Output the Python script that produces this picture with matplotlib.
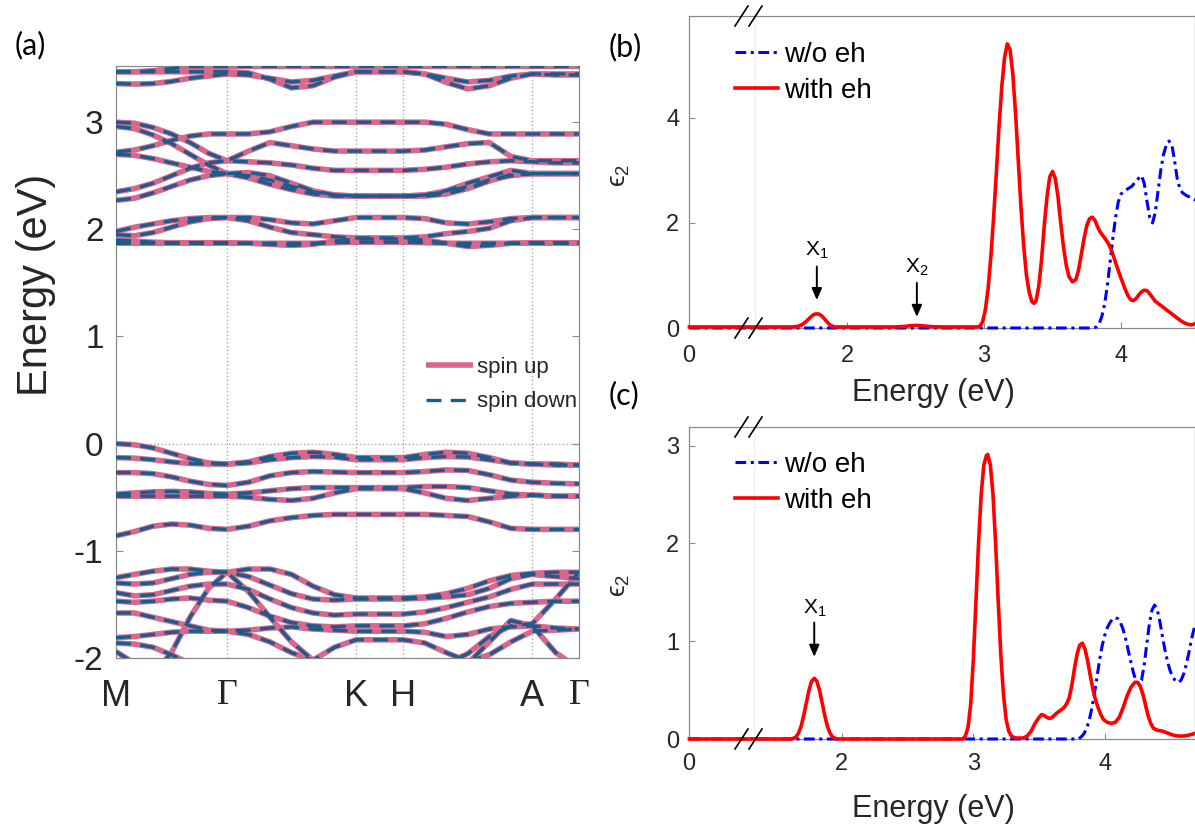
import numpy as np
import matplotlib
matplotlib.use("Agg")
import matplotlib.pyplot as plt
from matplotlib.lines import Line2D

plt.rcParams['font.family'] = ['Liberation Sans', 'DejaVu Sans']
plt.rcParams['mathtext.fontset'] = 'custom'
plt.rcParams['mathtext.rm'] = 'Liberation Sans'
plt.rcParams['mathtext.it'] = 'Liberation Sans:italic'

# ---------------- panel (a): band structure ----------------
k_nodes = [0.0, 1.11, 2.40, 2.873, 4.163, 4.63]
k_labels = ['M', 'Γ', 'K', 'H', 'A', 'Γ']
seg_div = [6, 6, 2, 6, 2]

# conduction bands (eV), sampled along M-Γ-K-H-A-Γ
cb_u1 = [3.47, 3.47, 3.48, 3.50, 3.52, 3.52, 3.52, 3.52, 3.52, 3.52, 3.52, 3.52, 3.52, 3.52, 3.52, 3.52, 3.52, 3.52, 3.52, 3.52, 3.52, 3.52, 3.52]
cb_u2 = [3.36, 3.355, 3.36, 3.38, 3.41, 3.43, 3.45, 3.44, 3.41, 3.375, 3.39, 3.43, 3.47, 3.47, 3.47, 3.45, 3.41, 3.375, 3.39, 3.43, 3.45, 3.45, 3.45]
cb_u3 = [3.47, 3.47, 3.47, 3.47, 3.47, 3.47, 3.47, 3.46, 3.40, 3.32, 3.34, 3.42, 3.47, 3.47, 3.47, 3.45, 3.37, 3.31, 3.34, 3.41, 3.45, 3.44, 3.44]
cb_m1 = [3.00, 2.99, 2.95, 2.89, 2.81, 2.71, 2.64, 2.73, 2.81, 2.78, 2.75, 2.73, 2.73, 2.73, 2.73, 2.74, 2.77, 2.80, 2.81, 2.68, 2.64, 2.64, 2.64]
cb_m2 = [2.96, 2.94, 2.88, 2.80, 2.70, 2.60, 2.52, 2.53, 2.50, 2.43, 2.36, 2.32, 2.31, 2.31, 2.31, 2.32, 2.36, 2.43, 2.49, 2.55, 2.52, 2.52, 2.52]
cb_m3 = [2.72, 2.74, 2.78, 2.83, 2.87, 2.89, 2.89, 2.89, 2.91, 2.96, 3.00, 3.00, 3.00, 3.00, 3.00, 3.00, 2.98, 2.93, 2.89, 2.89, 2.89, 2.89, 2.89]
cb_m4 = [2.70, 2.69, 2.66, 2.62, 2.58, 2.54, 2.52, 2.50, 2.46, 2.40, 2.35, 2.32, 2.31, 2.31, 2.31, 2.32, 2.35, 2.40, 2.46, 2.50, 2.52, 2.52, 2.52]
cb_m5 = [2.35, 2.38, 2.43, 2.50, 2.57, 2.62, 2.64, 2.63, 2.62, 2.60, 2.57, 2.55, 2.55, 2.55, 2.55, 2.56, 2.58, 2.61, 2.63, 2.64, 2.63, 2.62, 2.62]
cb_m6 = [2.27, 2.29, 2.34, 2.40, 2.46, 2.50, 2.52, 2.48, 2.42, 2.37, 2.33, 2.31, 2.31, 2.31, 2.31, 2.31, 2.33, 2.38, 2.45, 2.51, 2.52, 2.52, 2.52]
cb_l1 = [1.98, 2.02, 2.05, 2.08, 2.10, 2.11, 2.11, 2.11, 2.09, 2.06, 2.05, 2.08, 2.11, 2.11, 2.11, 2.10, 2.06, 2.05, 2.07, 2.10, 2.11, 2.11, 2.11]
cb_l2 = [1.95, 1.94, 1.97, 2.02, 2.07, 2.10, 2.11, 2.08, 2.02, 1.97, 1.95, 1.93, 1.92, 1.92, 1.92, 1.93, 1.96, 1.98, 2.01, 2.08, 2.11, 2.11, 2.11]
cb_l3 = [1.90, 1.89, 1.88, 1.875, 1.875, 1.875, 1.875, 1.87, 1.86, 1.85, 1.86, 1.89, 1.91, 1.91, 1.91, 1.90, 1.87, 1.84, 1.85, 1.87, 1.875, 1.875, 1.875]
cb_l4 = [1.87, 1.87, 1.87, 1.87, 1.87, 1.87, 1.87, 1.87, 1.87, 1.87, 1.87, 1.875, 1.88, 1.88, 1.88, 1.875, 1.87, 1.87, 1.87, 1.87, 1.87, 1.87, 1.87]
# valence bands (eV)
vb_1 = [0.0, -0.01, -0.04, -0.09, -0.14, -0.18, -0.19, -0.17, -0.12, -0.09, -0.08, -0.10, -0.13, -0.13, -0.13, -0.10, -0.08, -0.09, -0.13, -0.18, -0.19, -0.19, -0.20]
vb_2 = [-0.13, -0.135, -0.15, -0.17, -0.185, -0.19, -0.19, -0.18, -0.15, -0.13, -0.12, -0.125, -0.15, -0.15, -0.15, -0.13, -0.12, -0.125, -0.15, -0.18, -0.19, -0.20, -0.20]
vb_3 = [-0.27, -0.27, -0.28, -0.31, -0.35, -0.38, -0.39, -0.36, -0.30, -0.27, -0.26, -0.265, -0.27, -0.27, -0.27, -0.26, -0.245, -0.25, -0.29, -0.34, -0.36, -0.37, -0.375]
vb_4 = [-0.47, -0.46, -0.45, -0.445, -0.45, -0.465, -0.47, -0.46, -0.44, -0.42, -0.41, -0.41, -0.41, -0.41, -0.41, -0.40, -0.40, -0.41, -0.44, -0.47, -0.48, -0.49, -0.49]
vb_5 = [-0.49, -0.49, -0.49, -0.49, -0.49, -0.49, -0.49, -0.50, -0.52, -0.53, -0.51, -0.46, -0.42, -0.42, -0.42, -0.46, -0.51, -0.53, -0.51, -0.49, -0.48, -0.49, -0.49]
vb_6 = [-0.86, -0.82, -0.77, -0.75, -0.76, -0.79, -0.80, -0.77, -0.72, -0.69, -0.67, -0.66, -0.66, -0.66, -0.66, -0.66, -0.67, -0.68, -0.73, -0.79, -0.80, -0.80, -0.80]
vb_d1 = [-1.25, -1.22, -1.19, -1.17, -1.17, -1.19, -1.20, -1.17, -1.17, -1.22, -1.33, -1.41, -1.44, -1.44, -1.44, -1.43, -1.40, -1.35, -1.28, -1.23, -1.21, -1.20, -1.20]
vb_d2 = [-1.30, -1.31, -1.30, -1.26, -1.22, -1.20, -1.20, -1.24, -1.32, -1.40, -1.45, -1.46, -1.45, -1.45, -1.45, -1.44, -1.43, -1.41, -1.35, -1.26, -1.22, -1.24, -1.26]
vb_d3 = [-1.39, -1.42, -1.41, -1.37, -1.33, -1.31, -1.31, -1.36, -1.45, -1.53, -1.58, -1.60, -1.59, -1.59, -1.59, -1.57, -1.53, -1.48, -1.43, -1.36, -1.31, -1.31, -1.31]
vb_d4 = [-1.47, -1.48, -1.47, -1.45, -1.44, -1.46, -1.47, -1.53, -1.61, -1.67, -1.70, -1.71, -1.70, -1.70, -1.70, -1.68, -1.63, -1.57, -1.52, -1.49, -1.48, -1.47, -1.47]
vb_d5 = [-1.58, -1.58, -1.62, -1.66, -1.70, -1.74, -1.75, -1.74, -1.72, -1.71, -1.73, -1.74, -1.75, -1.75, -1.75, -1.76, -1.80, -1.78, -1.73, -1.71, -1.70, -1.72, -1.73]
vb_d6 = [-2.15, -2.20, -2.15, -1.95, -1.62, -1.35, -1.20, -1.38, -1.62, -1.85, -2.02, -2.10, -2.12, -2.12, -2.12, -2.10, -2.05, -1.96, -1.80, -1.70, -1.68, -1.45, -1.20]
vb_d7 = [-1.81, -1.80, -1.78, -1.76, -1.75, -1.75, -1.75, -1.78, -1.85, -1.95, -2.02, -1.90, -1.83, -1.83, -1.83, -1.86, -1.95, -2.03, -1.97, -1.85, -1.75, -1.74, -1.73]
vb_d8 = [-1.86, -1.87, -1.90, -1.97, -2.05, -2.10, -2.10, -2.10, -2.10, -2.10, -2.10, -2.10, -2.10, -2.10, -2.10, -2.10, -2.10, -2.05, -1.85, -1.65, -1.70, -1.95, -2.10]
vb_d9 = [-1.94, -2.05, -2.15, -2.15, -2.15, -2.15, -2.15, -2.15, -2.15, -2.15, -2.15, -2.15, -2.15, -2.15, -2.15, -2.15, -2.15, -2.15, -2.15, -2.15, -2.15, -2.15, -2.15]

bands = [cb_u1, cb_u2, cb_u3, cb_m1, cb_m2, cb_m3, cb_m4, cb_m5, cb_m6,
         cb_l1, cb_l2, cb_l3, cb_l4, vb_1, vb_2, vb_3, vb_4, vb_5, vb_6,
         vb_d1, vb_d2, vb_d3, vb_d4, vb_d5, vb_d6, vb_d7, vb_d8, vb_d9]

# ---------------- panel (b) ----------------
E_b_eh = [0.85, 1.60, 1.64, 1.67, 1.70, 1.72, 1.74, 1.76, 1.78, 1.80, 1.82, 1.84, 1.86, 1.88, 1.91, 2.35, 2.42, 2.47,
          2.51, 2.56, 2.62, 2.70, 2.95, 2.97, 2.99, 3.01, 3.03, 3.05, 3.07, 3.09, 3.11, 3.13, 3.15, 3.17, 3.19, 3.21,
          3.23, 3.25, 3.27, 3.29, 3.31, 3.33, 3.35, 3.365, 3.38, 3.40, 3.42, 3.44, 3.46, 3.48, 3.50, 3.52, 3.54, 3.56,
          3.58, 3.60, 3.62, 3.645, 3.67, 3.69, 3.71, 3.73, 3.75, 3.77, 3.79, 3.81, 3.83, 3.85, 3.87, 3.89, 3.91, 3.93,
          3.95, 3.97, 3.99, 4.01, 4.03, 4.05, 4.07, 4.09, 4.11, 4.13, 4.15, 4.17, 4.19, 4.21, 4.23, 4.25, 4.28, 4.31,
          4.34, 4.37, 4.40, 4.43, 4.46, 4.49, 4.51, 4.53, 4.55]
eps_b_eh = [0.02, 0.02, 0.03, 0.06, 0.12, 0.17, 0.22, 0.26, 0.27, 0.26, 0.22, 0.16, 0.10, 0.05, 0.02, 0.02, 0.03, 0.045,
            0.05, 0.04, 0.025, 0.02, 0.02, 0.03, 0.12, 0.35, 0.75, 1.35, 2.10, 2.95, 3.85, 4.60, 5.15, 5.41, 5.30, 4.85,
            4.10, 3.20, 2.30, 1.55, 1.00, 0.68, 0.50, 0.47, 0.52, 0.80, 1.30, 1.95, 2.50, 2.88, 2.98, 2.85, 2.50, 2.00,
            1.55, 1.20, 0.98, 0.88, 0.92, 1.10, 1.40, 1.70, 1.95, 2.08, 2.11, 2.05, 1.92, 1.82, 1.75, 1.68, 1.60, 1.48,
            1.33, 1.17, 1.02, 0.88, 0.74, 0.62, 0.54, 0.52, 0.56, 0.63, 0.69, 0.72, 0.71, 0.65, 0.58, 0.51, 0.45, 0.39,
            0.33, 0.27, 0.21, 0.15, 0.10, 0.07, 0.06, 0.07, 0.10]
E_b_noeh = [0.85, 3.80, 3.82, 3.84, 3.86, 3.88, 3.90, 3.92, 3.94, 3.96, 3.98, 4.00, 4.02, 4.05, 4.08, 4.11, 4.14,
            4.15, 4.17, 4.19, 4.21, 4.23, 4.25, 4.27, 4.29, 4.31, 4.33, 4.35, 4.37, 4.39, 4.41, 4.43, 4.45, 4.48,
            4.51, 4.54, 4.56]
eps_b_noeh = [0.0, 0.0, 0.02, 0.08, 0.22, 0.45, 0.80, 1.25, 1.70, 2.10, 2.40, 2.55, 2.60, 2.65, 2.70, 2.80, 2.88,
              2.90, 2.75, 2.40, 2.10, 2.00, 2.20, 2.60, 3.00, 3.30, 3.48, 3.56, 3.50, 3.20, 2.85, 2.65, 2.57, 2.52,
              2.48, 2.44, 2.42]
peaks_b = [1.78, 2.51]
peak_names_b = ['X$_1$', 'X$_2$']

# ---------------- panel (c) ----------------
E_c_eh = [0.84, 1.62, 1.65, 1.67, 1.69, 1.71, 1.73, 1.75, 1.77, 1.79, 1.81, 1.83, 1.85, 1.87, 1.89, 1.91, 1.93,
          1.96, 2.92, 2.94, 2.96, 2.98, 3.00, 3.02, 3.04, 3.06, 3.08, 3.10, 3.11, 3.13, 3.15, 3.17, 3.19, 3.21, 3.23,
          3.25, 3.27, 3.29, 3.32, 3.38, 3.41, 3.44, 3.47, 3.50, 3.52, 3.54, 3.56, 3.58, 3.60, 3.63, 3.66, 3.69, 3.71,
          3.73, 3.75, 3.77, 3.79, 3.81, 3.83, 3.85, 3.87, 3.89, 3.91, 3.93, 3.95, 3.97, 3.99, 4.02, 4.05, 4.08, 4.11,
          4.14, 4.17, 4.20, 4.23, 4.25, 4.27, 4.29, 4.31, 4.33, 4.35, 4.37, 4.40, 4.44, 4.48, 4.52, 4.56, 4.60, 4.64,
          4.67, 4.69]
eps_c_eh = [0.0, 0.0, 0.02, 0.06, 0.13, 0.24, 0.37, 0.50, 0.59, 0.62, 0.59, 0.50, 0.37, 0.24, 0.13, 0.06, 0.02,
            0.0, 0.0, 0.03, 0.12, 0.35, 0.80, 1.40, 2.00, 2.50, 2.80, 2.90, 2.91, 2.80, 2.50, 2.00, 1.40, 0.85, 0.45,
            0.20, 0.08, 0.03, 0.01, 0.01, 0.03, 0.08, 0.16, 0.22, 0.25, 0.24, 0.22, 0.21, 0.22, 0.26, 0.29, 0.32, 0.36,
            0.42, 0.55, 0.72, 0.87, 0.96, 0.98, 0.92, 0.80, 0.65, 0.51, 0.40, 0.32, 0.25, 0.20, 0.17, 0.16, 0.17, 0.22,
            0.32, 0.44, 0.53, 0.58, 0.58, 0.54, 0.46, 0.35, 0.24, 0.16, 0.11, 0.09, 0.08, 0.06, 0.04, 0.03, 0.03, 0.04,
            0.05, 0.06]
E_c_noeh = [0.84, 3.80, 3.82, 3.84, 3.86, 3.88, 3.90, 3.92, 3.94, 3.96, 3.98, 4.00, 4.02, 4.04, 4.06, 4.08, 4.10,
            4.12, 4.14, 4.16, 4.18, 4.20, 4.22, 4.24, 4.26, 4.28, 4.30, 4.32, 4.34, 4.36, 4.38, 4.40, 4.42, 4.44,
            4.46, 4.48, 4.50, 4.52, 4.54, 4.56, 4.58, 4.60, 4.62, 4.64, 4.66, 4.69]
eps_c_noeh = [0.0, 0.0, 0.02, 0.05, 0.10, 0.18, 0.30, 0.45, 0.62, 0.80, 0.95, 1.06, 1.14, 1.19, 1.23, 1.24, 1.23,
              1.19, 1.12, 1.02, 0.90, 0.78, 0.67, 0.59, 0.56, 0.60, 0.75, 0.97, 1.18, 1.32, 1.37, 1.32, 1.20, 1.04,
              0.90, 0.78, 0.69, 0.63, 0.59, 0.58, 0.60, 0.66, 0.76, 0.88, 1.02, 1.18]
peaks_c = [1.79]
peak_names_c = ['X$_1$']

# ---------------- styling ----------------
W, H = 1195, 824
fig = plt.figure(figsize=(W / 100, H / 100), dpi=100)


def rect(l, t, r, b):
    return [l / W, 1 - b / H, (r - l) / W, (b - t) / H]


def fx(x):
    return x / W


def fy(y):
    return 1 - y / H


pink = '#D8678C'
navy = '#1A5C8C'
spine_c = '#8a8a8a'
txt_c = '#262626'

axA = fig.add_axes(rect(116, 66, 579, 658))
axB = fig.add_axes(rect(689, 16, 1195, 328))
axC = fig.add_axes(rect(689, 427, 1195, 739))

# ---- (a)
k = [k_nodes[0]]
for i, n in enumerate(seg_div):
    k += list(np.linspace(k_nodes[i], k_nodes[i + 1], n + 1)[1:])
k = np.array(k)

for xv in k_nodes[1:-1]:
    axA.axvline(xv, color='#9a9a9a', lw=0.9, ls=(0, (1, 2)), zorder=1)
axA.axhline(0, color='#9a9a9a', lw=0.9, ls=(0, (1, 2)), zorder=1)

# spin-degenerate: spin up and spin down bands coincide
for i, b in enumerate(bands):
    axA.plot(k, b, color=pink, lw=4.0, solid_capstyle='butt', solid_joinstyle='round',
             zorder=2, label='spin up' if i == 0 else None)
for i, b in enumerate(bands):
    axA.plot(k, b, color=navy, lw=2.4, dashes=(4.5, 2.8), zorder=3,
             label='spin down' if i == 0 else None)

axA.set_xlim(k_nodes[0], k_nodes[-1])
axA.set_ylim(-2, 3.524)
axA.set_yticks([-2, -1, 0, 1, 2, 3])
axA.set_yticklabels(['-2', '-1', '0', '1', '2', '3'])
axA.set_xticks(k_nodes)
axA.set_xticklabels(k_labels)
axA.tick_params(axis='y', direction='in', length=5, width=0.8, color=spine_c,
                labelsize=24, labelcolor=txt_c, pad=9, right=True)
axA.tick_params(axis='x', length=0, labelsize=26, labelcolor=txt_c, pad=15)
for lab in axA.get_xticklabels():
    if lab.get_text() == 'Γ':
        lab.set_fontfamily(['Liberation Serif', 'DejaVu Serif'])
for s in axA.spines.values():
    s.set_color(spine_c)
    s.set_linewidth(0.9)

leg = axA.legend(loc='upper left', bbox_to_anchor=(fx(426), fy(357)),
                 bbox_transform=fig.transFigure, frameon=False, fontsize=16,
                 handlelength=2.1, handletextpad=0.2, labelspacing=0.6,
                 borderpad=0, borderaxespad=0)
leg.set_zorder(5)
for t in leg.get_texts():
    t.set_color(txt_c)

fig.text(fx(36), fy(285), 'Energy (eV)', rotation=90, fontsize=30,
         color=txt_c, ha='center', va='center')

# ---- (b) and (c)
dashdot = (3.5, 1.5, 1.0, 1.5)


def spectrum(ax, E_eh, e_eh, E_no, e_no, xlim, ylim, yticks, xpad):
    ax.plot(E_no, e_no, color='#0000FF', lw=2.2, dashes=dashdot, label='w/o eh',
            clip_on=False, zorder=3)
    ax.plot(E_eh, e_eh, color='#FF0000', lw=2.6, label='with eh', clip_on=False,
            zorder=4, solid_joinstyle='round')
    ax.set_xlim(*xlim)
    ax.set_ylim(*ylim)
    ax.set_xticks([xlim[0], 2, 3, 4])
    ax.set_xticklabels(['0', '2', '3', '4'])
    ax.set_yticks(yticks)
    ax.set_yticklabels([str(v) for v in yticks])
    ax.tick_params(axis='both', direction='in', length=4, width=0.8, color=spine_c,
                   labelsize=17, labelcolor=txt_c)
    ax.tick_params(axis='y', pad=7)
    ax.tick_params(axis='x', pad=xpad)
    for s in ax.spines.values():
        s.set_color(spine_c)
        s.set_linewidth(0.9)
    ax.axvline(0.847 + (755 - 689) / 137.0, color='#f0f0f0', lw=1.0, zorder=1)


spectrum(axB, E_b_eh, eps_b_eh, E_b_noeh, eps_b_noeh, (0.847, 4.54), (0, 5.94), [0, 2, 4], 12)
spectrum(axC, E_c_eh, eps_c_eh, E_c_noeh, eps_c_noeh, (0.837, 4.687), (0, 3.19), [0, 1, 2, 3], 10)

for ax, top in ((axB, 55), (axC, 465)):
    lg = ax.legend(loc='upper left', bbox_to_anchor=(fx(735), fy(top - 13)),
                   bbox_transform=fig.transFigure, frameon=False, fontsize=20,
                   handlelength=1.55, handletextpad=0.2, labelspacing=0.35,
                   borderpad=0, borderaxespad=0)
    for t in lg.get_texts():
        t.set_color('black')

# exciton arrows
arrow_kw = dict(arrowstyle='-|>,head_length=0.7,head_width=0.3', color='black', lw=1.4,
                shrinkA=0, shrinkB=0)
for E0, name, y_tip, y_tail in zip(peaks_b, peak_names_b, [0.53, 0.21], [1.17, 0.86]):
    axB.annotate('', xy=(E0, y_tip), xytext=(E0, y_tail), arrowprops=arrow_kw)
    axB.text(E0, y_tail + 0.1, name, ha='center', va='bottom', fontsize=15, color='black')
axC.annotate('', xy=(peaks_c[0], 0.84), xytext=(peaks_c[0], 1.19), arrowprops=arrow_kw)
axC.text(peaks_c[0], 1.23, peak_names_c[0], ha='center', va='bottom', fontsize=15, color='black')

# axis labels
for ycen, yl in ((175, 393), (585, 809)):
    fig.text(fx(620), fy(ycen), 'ϵ$_2$', rotation=90, fontsize=19,
             color=txt_c, ha='center', va='center')
    fig.text(fx(933), fy(yl), 'Energy (eV)', fontsize=22, color=txt_c,
             ha='center', va='center')

# break marks
for yc in (16, 328, 427, 739):
    for x0 in (735, 749):
        fig.add_artist(Line2D([fx(x0), fx(x0 + 13)], [fy(yc + 10), fy(yc - 10)],
                              transform=fig.transFigure, color='black', lw=1.2))

# panel labels
for lbl, (x, y) in zip(['(a)', '(b)', '(c)'], [(30, 45), (625, 47), (624, 395)]):
    fig.text(fx(x), fy(y), lbl, fontsize=22, family=['Lato', 'DejaVu Sans'],
             color='black', ha='center', va='center')

fig.savefig('out.png', dpi=100)
